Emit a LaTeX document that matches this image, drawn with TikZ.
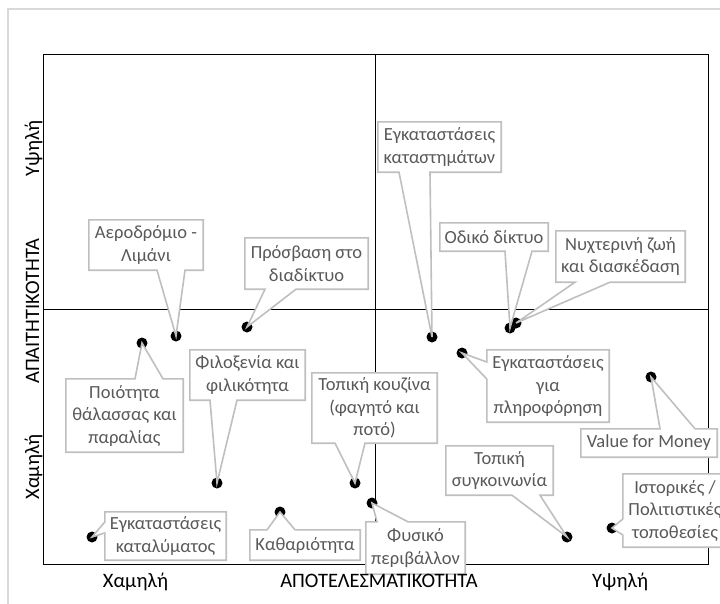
\documentclass[tikz,border=0pt]{standalone}
\usepackage{fontspec}
\setmainfont{Carlito}

\pgfdeclarelayer{under}
\pgfdeclarelayer{shapes}
\pgfsetlayers{under,shapes,main}

\definecolor{framegray}{HTML}{D9D9D9}
\definecolor{boxgray}{HTML}{BFBFBF}
\definecolor{textgray}{HTML}{595959}

\newcommand\callfont{\fontsize{18.5}{22.5}\selectfont}
\newcommand\axisfont{\fontsize{20.5}{24}\selectfont}

\tikzset{
  pt/.style={circle, fill=black, inner sep=0pt, minimum size=11pt},
  lbl/.style={font=\callfont, text=textgray, align=center, inner sep=0pt},
  callout/.style={draw=boxgray, line width=1.6pt, fill=white, line join=miter},
  axislbl/.style={font=\axisfont, text=black, inner sep=0pt, anchor=base},
  plotline/.style={draw=black, line width=0.9pt},
}

% label box: name, centre x, centre y, width, height, text
\newcommand\lblbox[6]{\node[lbl, minimum width=#4pt, minimum height=#5pt] (#1) at (#2,#3) {#6};}
% callout outlines: box, point, first and second end of the pointer base
\newcommand\calloutbottom[4]{\draw[callout] (#1.north west) -- (#1.north east) -- (#1.south east)
  -- (#4,0 |- #1.south) -- (#2.center) -- (#3,0 |- #1.south) -- (#1.south west) -- cycle;}
\newcommand\callouttop[4]{\draw[callout] (#1.south west) -- (#1.south east) -- (#1.north east)
  -- (#4,0 |- #1.north) -- (#2.center) -- (#3,0 |- #1.north) -- (#1.north west) -- cycle;}
\newcommand\calloutleft[4]{\draw[callout] (#1.north west) -- (#1.north east) -- (#1.south east)
  -- (#1.south west) -- (#1.west |- 0,#4) -- (#2.center) -- (#1.west |- 0,#3) -- cycle;}

\begin{document}
\begin{tikzpicture}[x=1pt, y=-1pt]
\useasboundingbox (0,0) rectangle (720,603);

\begin{pgfonlayer}{under}
  \clip (0,0) rectangle (720,603);
  % outer chart frame
  \draw[framegray, line width=1.5pt] (8,620) -- (8,9) -- (740,9);
  % plot area and quadrant lines
  \draw[plotline] (43,54) rectangle (708,564);
  \draw[plotline] (375,54) -- (375,564);
  \draw[plotline] (43,309) -- (708,309);
  % data points
  \node[pt] (aerd) at (176,336) {};
  \node[pt] (prod) at (247,327) {};
  \node[pt] (katd) at (432,337) {};
  \node[pt] (odid) at (510,328) {};
  \node[pt] (nyxd) at (516,323) {};
  \node[pt] (poid) at (142,343) {};
  \node[pt] (fild) at (217,483) {};
  \node[pt] (koud) at (355,483) {};
  \node[pt] (fysd) at (372,503) {};
  \node[pt] (kathd) at (280,512) {};
  \node[pt] (kald) at (92,537) {};
  \node[pt] (plid) at (462,353) {};
  \node[pt] (vfmd) at (651,377) {};
  \node[pt] (sygd) at (567,537) {};
  \node[pt] (istd) at (612,528) {};
\end{pgfonlayer}

% axis titles
\node[axislbl] (xlow) at (135.5,587) {Χαμηλή};
\node[axislbl] (xtitle) at (379,587) {ΑΠΟΤΕΛΕΣΜΑΤΙΚΟΤΗΤΑ};
\node[axislbl] (xhigh) at (620,587) {Υψηλή};
\node[axislbl, rotate=90] (yhigh) at (39,148) {Υψηλή};
\node[axislbl, rotate=90] (ytitle) at (39,311) {ΑΠΑΙΤΗΤΙΚΟΤΗΤΑ};
\node[axislbl, rotate=90] (ylow) at (39,467) {Χαμηλή};

% label texts
\lblbox{aer}{146}{245}{114}{50}{Αεροδρόμιο -\\Λιμάνι}
\lblbox{pro}{306.5}{263.5}{123}{51}{Πρόσβαση στο\\διαδίκτυο}
\lblbox{kat}{439.5}{147}{123}{50}{Εγκαταστάσεις\\καταστημάτων}
\lblbox{odi}{494}{237}{108}{28}{Οδικό δίκτυο}
\lblbox{nyx}{620.5}{256.5}{129}{51}{Νυχτερινή ζωή\\και διασκέδαση}
\lblbox{poi}{124.5}{415.5}{117}{73}{Ποιότητα\\θάλασσας και\\παραλίας}
\lblbox{fil}{247.5}{375}{115}{50}{Φιλοξενία και\\φιλικότητα}
\lblbox{kou}{374.5}{408}{125}{70}{Τοπική κουζίνα\\(φαγητό και\\ποτό)}
\lblbox{fys}{415.5}{548}{99}{52}{Φυσικό\\περιβάλλον}
\lblbox{kath}{305}{545}{110}{30}{Καθαριότητα}
\lblbox{kal}{165.5}{536}{121}{48}{Εγκαταστάσεις\\καταλύματος}
\lblbox{pli}{548}{386}{122}{72}{Εγκαταστάσεις\\για\\πληροφόρηση}
\lblbox{vfm}{649}{443}{136}{28}{Value for Money}
\lblbox{syg}{499.5}{470.5}{107}{49}{Τοπική\\συγκοινωνία}
\lblbox{ist}{675}{510.5}{104}{73}{Ιστορικές /\\Πολιτιστικές\\τοποθεσίες}

% callout outlines, behind the texts and over the points
\begin{pgfonlayer}{shapes}
  \clip (0,0) rectangle (720,603);
  \calloutbottom{aer}{aerd}{157}{185}
  \calloutbottom{pro}{prod}{265}{296}
  \calloutbottom{kat}{katd}{399}{430}
  \calloutbottom{odi}{odid}{505}{532}
  \calloutbottom{nyx}{nyxd}{575}{610}
  \callouttop{poi}{poid}{135}{163}
  \calloutbottom{fil}{fild}{210}{237}
  \calloutbottom{kou}{koud}{335}{365}
  \callouttop{fys}{fysd}{377}{408}
  \callouttop{kath}{kathd}{267}{295}
  \calloutleft{kal}{kald}{522}{533}
  \calloutleft{pli}{plid}{362}{379}
  \callouttop{vfm}{vfmd}{660}{695}
  \calloutbottom{syg}{sygd}{512}{540}
  \calloutleft{ist}{istd}{519}{535}
\end{pgfonlayer}
\end{tikzpicture}
\end{document}
